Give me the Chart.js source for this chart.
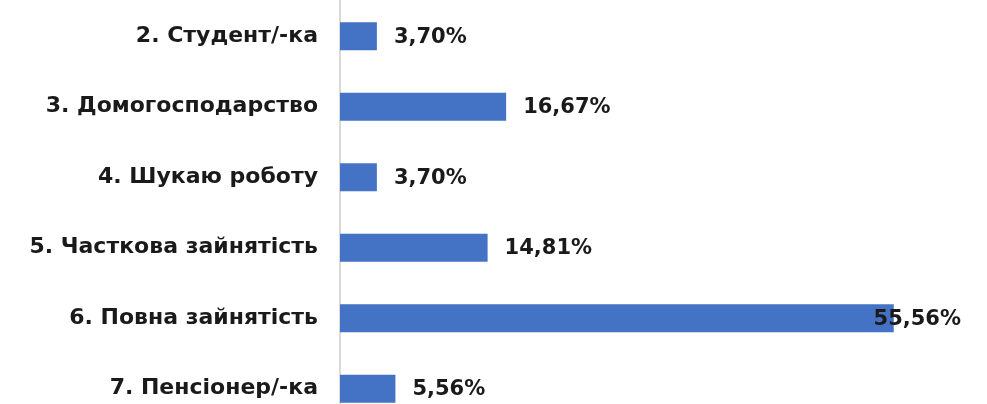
<!DOCTYPE html>
<html>
<head>
<meta charset="utf-8">
<script src="https://cdn.jsdelivr.net/npm/chart.js@4/dist/chart.umd.min.js"></script>
<style>
  html, body { margin: 0; padding: 0; background: #fff; overflow: hidden; }
  #graph { display: block; }
</style>
</head>
<body>
<canvas id="graph" width="987" height="424"></canvas>
<script>
// категорії та значення (%)
const categories = [
  "2. Студент/-ка",
  "3. Домогосподарство",
  "4. Шукаю роботу",
  "5. Часткова зайнятість",
  "6. Повна зайнятість",
  "7. Пенсіонер/-ка",
];
const values = [3.70, 16.67, 3.70, 14.81, 55.56, 5.56];
const valueLabels = ["3,70%", "16,67%", "3,70%", "14,81%", "55,56%", "5,56%"];

const fontFamily = "'DejaVu Sans', sans-serif";

// підписи значень праворуч від смуги
const valueLabelPlugin = {
  id: "valueLabels",
  afterDatasetsDraw(chart) {
    const ctx = chart.ctx;
    const meta = chart.getDatasetMeta(0);
    const limit = chart.width - 26;
    ctx.save();
    ctx.font = "bold 21px " + fontFamily;
    ctx.fillStyle = "#1a1a1a";
    ctx.textBaseline = "middle";
    ctx.textAlign = "left";
    meta.data.forEach((bar, i) => {
      const text = valueLabels[i];
      const w = ctx.measureText(text).width;
      let x = bar.x + 17;
      if (x + w > limit) x = limit - w;
      ctx.fillText(text, x, bar.y + 1);
    });
    ctx.restore();
  },
};

const config = {
  type: "bar",
  data: {
    labels: categories,
    datasets: [
      {
        data: values,
        backgroundColor: "#4472C4",
        borderWidth: 0,
        categoryPercentage: 1,
        barPercentage: 0.4,
      },
    ],
  },
  options: {
    indexAxis: "y",
    responsive: false,
    animation: false,
    layout: {
      padding: { top: 1, right: 49, bottom: 0, left: 0 },
    },
    scales: {
      x: {
        display: false,
        min: 0,
        max: 60,
      },
      y: {
        afterFit(scale) {
          scale.width = 340;
          scale.paddingTop = 0;
          scale.paddingBottom = 0;
        },
        grid: { display: false },
        border: { display: true, color: "#d9d9d9", width: 2 },
        ticks: {
          padding: 14,
          color: "#1a1a1a",
          font: { family: fontFamily, size: 22, weight: "bold" },
        },
      },
    },
    plugins: {
      legend: { display: false },
      tooltip: { enabled: false },
    },
  },
  plugins: [valueLabelPlugin],
};

let myChart = new Chart(document.getElementById("graph"), config);
</script>
</body>
</html>
